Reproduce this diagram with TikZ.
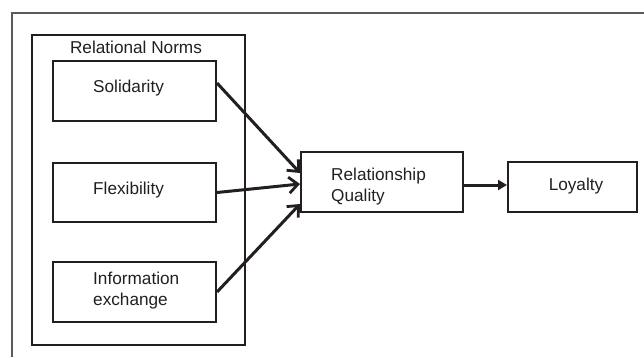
\documentclass[tikz,border=0pt]{standalone}
\usepackage{fontspec}
\setmainfont{Liberation Sans}
\usetikzlibrary{arrows.meta,calc}
\definecolor{ink}{HTML}{231F20}
\definecolor{frame}{HTML}{5A5A5A}
\begin{document}
\begin{tikzpicture}[x=1pt,y=-1pt,
  every node/.style={font=\fontsize{17.2}{20.5}\selectfont, text=ink},
  box/.style={draw=ink, line width=2pt, inner sep=0pt, rectangle},
  lbl/.style={inner sep=0pt, anchor=base west, align=left},
  link/.style={draw=ink, line width=3pt, -{Straight Barb[length=9pt,width=16pt,line width=2.8pt]}},
  link2/.style={draw=ink, line width=3pt, -{Triangle[length=9pt,width=10pt]}}]
\useasboundingbox (0,0) rectangle (644,357);
% outer frame (cropped)
\draw[frame, line width=1.6pt] (12,357) -- (12,13) -- (644,13);
% group box
\node[box, minimum width=213pt, minimum height=310pt] (rn) at (138.5,190) {};
\node[inner sep=0pt, anchor=base] (rnl) at (136,53) {Relational Norms};
% inner boxes
\node[box, minimum width=163pt, minimum height=60pt] (sol) at (134.5,91) {};
\node[box, minimum width=163pt, minimum height=59pt] (flex) at (134.5,192.5) {};
\node[box, minimum width=163pt, minimum height=60pt] (info) at (134.5,292) {};
\node[lbl] (solt) at (93,92.5) {Solidarity};
\node[lbl] (flext) at (93,194) {Flexibility};
\node[lbl] (infot) at (93,305) {Information\\exchange};
% right boxes
\node[box, minimum width=162pt, minimum height=60pt] (rq) at (382,182) {};
\node[lbl] (rqt) at (331,201) {Relationship\\Quality};
\node[box, minimum width=129pt, minimum height=50pt] (loy) at (572.5,187) {};
\node[inner sep=0pt, anchor=base] (loyt) at (576,190) {Loyalty};
% connectors
\draw[link] ([yshift=8pt]sol.east) -- ([yshift=9pt]rq.west);
\draw[link] (flex.east) -- ([yshift=-2pt]rq.west);
\draw[link] (info.east) -- ([yshift=-22pt]rq.west);
\draw[link2] ([yshift=-3pt]rq.east) -- ([yshift=-3pt]rq.east -| loy.west);
\end{tikzpicture}
\end{document}
